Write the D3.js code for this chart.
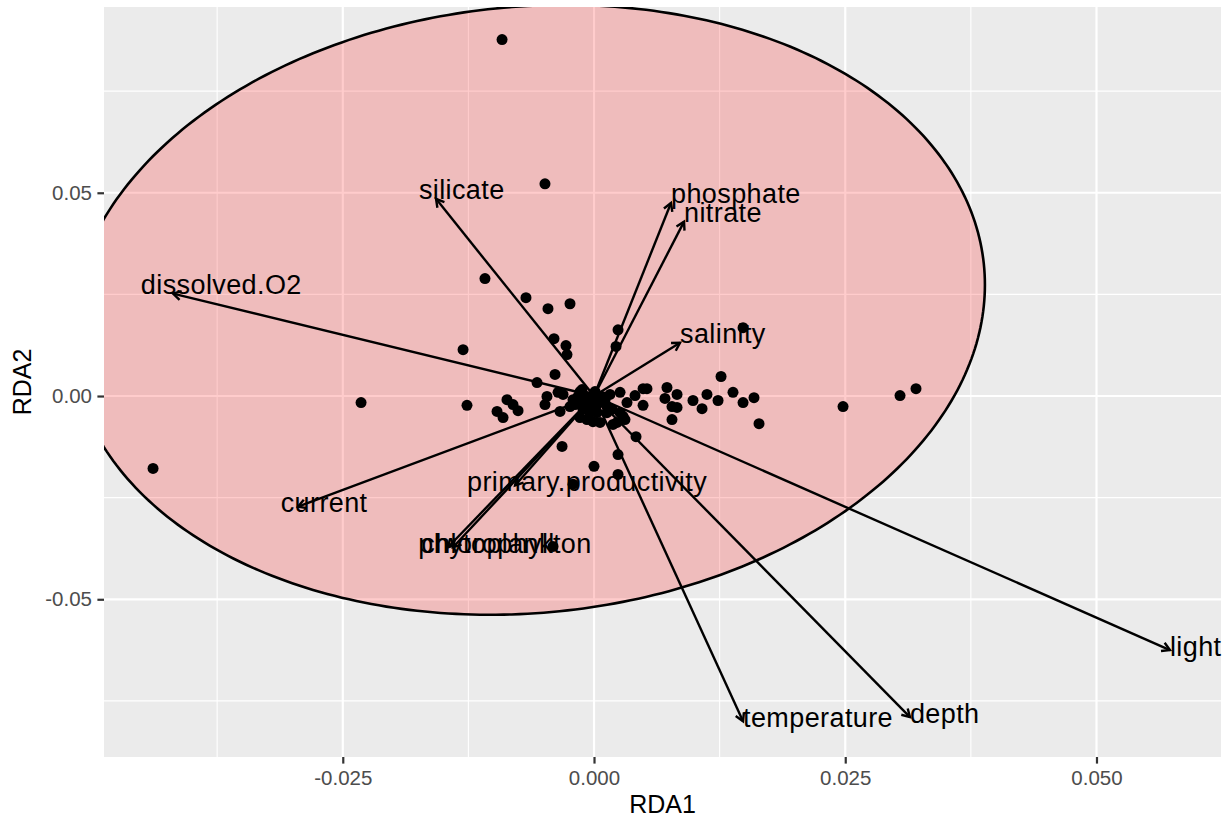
<!DOCTYPE html>
<html>
<head>
<meta charset="utf-8">
<script src="https://cdn.jsdelivr.net/npm/d3@7"></script>
<style>
  body { margin: 0; background: #ffffff; }
  text { font-family: "Liberation Sans", Arial, Helvetica, sans-serif; }
</style>
</head>
<body>
<svg id="chart" width="1232" height="825"></svg>
<script>
// Site scores on the first two RDA axes
const siteRDA1 = [
  -0.00915, -0.00488, -0.01085, -0.00677, -0.00458, -0.00239, -0.01303, -0.00398,
  -0.00279, -0.00269, 0.00239, 0.00219, -0.00388, -0.00567, -0.02318, -0.01264,
  -0.04388, 0.01483, 0.01264, 0.02478, 0.03045, 0.03204, 0.01642,
  0.00527, 0.00488, 0.00726, 0.00706, 0.00826, 0.00776, 0.00826, 0.00776,
  0.00985, 0.01075, 0.01124, 0.01234, 0.01383, 0.01483, 0.01592,
  0.00259, 0.00408, 0.00328, 0.00488, 0.00259, 0.00308, 0.00189, 0.00418,
  0.00229, 0.00080, 0.00159, 0.00129, 0.00060, 0.00289, 0.00030, 0.00129,
  -0.00358, -0.00308, -0.00209, -0.00239, -0.00119, -0.00070, -0.00109, -0.00040,
  -0.00139, -0.00070, -0.00010, -0.00338, -0.00468, -0.00488, -0.00139,
  -0.00040, 0.00040, -0.00090, -0.00020, -0.00159, -0.00189, 0.00010, 0.00109, 0.00179,
  -0.00866, -0.00806, -0.00756, -0.00965, -0.00905,
  -0.00318, 0.00000, -0.00209, 0.00239, 0.00239, -0.00408
];
const siteRDA2 = [
  0.0877, 0.0522, 0.0289, 0.0242, 0.0215, 0.0227, 0.0114, 0.0141,
  0.0124, 0.0102, 0.0163, 0.0122, 0.0053, 0.0033, -0.0016, -0.0023,
  -0.0178, 0.0168, 0.0048, -0.0026, 0.0001, 0.0018, -0.0068,
  0.0018, 0.0018, 0.0021, -0.0006, 0.0004, -0.0026, -0.0028, -0.0058,
  -0.0011, -0.0031, 0.0004, -0.0011, 0.0009, -0.0016, -0.0004,
  0.0009, 0.0001, -0.0016, -0.0023, -0.0041, -0.0058, -0.0070, -0.0100,
  -0.0065, -0.0001, 0.0004, -0.0026, -0.0065, -0.0050, -0.0041, -0.0041,
  0.0009, 0.0004, -0.0009, -0.0026, 0.0016, -0.0001, -0.0033, -0.0041,
  -0.0053, -0.0058, -0.0063, -0.0038, -0.0001, -0.0021, 0.0011,
  -0.0009, -0.0018, -0.0018, -0.0028, -0.0001, -0.0021, 0.0011, -0.0011, -0.0033,
  -0.0009, -0.0021, -0.0036, -0.0038, -0.0053,
  -0.0124, -0.0173, -0.0217, -0.0144, -0.0193, -0.0370
];

// Environmental variable biplot scores
const envNames = ["silicate", "phosphate", "nitrate", "dissolved.O2", "salinity", "current",
  "primary.productivity", "chlorophyll", "phytoplankton", "temperature", "depth", "light"];
const envRDA1 = [-0.01572, 0.00766, 0.00896, -0.04189, 0.00856, -0.02945,
  -0.00786, -0.01453, -0.01403, 0.01483, 0.03144, 0.05731];
const envRDA2 = [0.0485, 0.0475, 0.0429, 0.0252, 0.0131, -0.0272,
  -0.0220, -0.0372, -0.0372, -0.0800, -0.0790, -0.0625];

// Axis breaks
const xTicks = [-0.025, 0, 0.025, 0.05];
const xTickLabels = ["-0.025", "0.000", "0.025", "0.050"];
const yTicks = [-0.05, 0, 0.05];
const yTickLabels = ["-0.05", "0.00", "0.05"];

// Confidence ellipse: centre and shape matrix (already scaled by the radius)
const ellipseCenter = [-0.0066, 0.0212];
const ellipseShape = [[0.0020700, 0.00028000], [0.00028000, 0.0056266]];

const svg = d3.select("#chart");
const panel = { left: 104, right: 1221, top: 7, bottom: 757 };

const x = d3.scaleLinear().domain([-0.04876, 0.06239]).range([panel.left, panel.right]);
const y = d3.scaleLinear().domain([-0.0888, 0.0957]).range([panel.bottom, panel.top]);

svg.append("rect").attr("width", 1232).attr("height", 825).attr("fill", "#ffffff");

svg.append("defs").append("clipPath").attr("id", "panel-clip")
  .append("rect")
  .attr("x", panel.left).attr("y", panel.top)
  .attr("width", panel.right - panel.left).attr("height", panel.bottom - panel.top);

svg.append("rect")
  .attr("x", panel.left).attr("y", panel.top)
  .attr("width", panel.right - panel.left).attr("height", panel.bottom - panel.top)
  .attr("fill", "#EBEBEB");

const grid = svg.append("g").attr("clip-path", "url(#panel-clip)");

// minor grid lines sit halfway between the major breaks
const xStep = 0.025, yStep = 0.05;
const xMinor = d3.range(-0.1, 0.1, xStep).map(v => v + xStep / 2)
  .filter(v => v > x.domain()[0] && v < x.domain()[1]);
const yMinor = d3.range(-0.15, 0.15, yStep).map(v => v + yStep / 2)
  .filter(v => v > y.domain()[0] && v < y.domain()[1]);

grid.selectAll(".xminor").data(xMinor).join("line")
  .attr("x1", d => x(d)).attr("x2", d => x(d))
  .attr("y1", panel.top).attr("y2", panel.bottom)
  .attr("stroke", "#ffffff").attr("stroke-width", 1.1);
grid.selectAll(".yminor").data(yMinor).join("line")
  .attr("y1", d => y(d)).attr("y2", d => y(d))
  .attr("x1", panel.left).attr("x2", panel.right)
  .attr("stroke", "#ffffff").attr("stroke-width", 1.1);
grid.selectAll(".xmajor").data(xTicks).join("line")
  .attr("x1", d => x(d)).attr("x2", d => x(d))
  .attr("y1", panel.top).attr("y2", panel.bottom)
  .attr("stroke", "#ffffff").attr("stroke-width", 2.2);
grid.selectAll(".ymajor").data(yTicks).join("line")
  .attr("y1", d => y(d)).attr("y2", d => y(d))
  .attr("x1", panel.left).attr("x2", panel.right)
  .attr("stroke", "#ffffff").attr("stroke-width", 2.2);

// ellipse outline from the Cholesky factor of the shape matrix
const l11 = Math.sqrt(ellipseShape[0][0]);
const l21 = ellipseShape[1][0] / l11;
const l22 = Math.sqrt(ellipseShape[1][1] - l21 * l21);
const ellipsePts = d3.range(0, 361).map(i => {
  const t = i / 360 * 2 * Math.PI;
  const c = Math.cos(t), s = Math.sin(t);
  return [x(ellipseCenter[0] + l11 * c), y(ellipseCenter[1] + l21 * c + l22 * s)];
});
grid.append("path")
  .attr("d", d3.line()(ellipsePts) + "Z")
  .attr("fill", "#ff0000").attr("fill-opacity", 0.2)
  .attr("stroke", "#000000").attr("stroke-width", 2.6);

// site points
const sites = siteRDA1.map((v, i) => ({ x: v, y: siteRDA2[i] }));
grid.selectAll(".site").data(sites).join("circle")
  .attr("cx", d => x(d.x)).attr("cy", d => y(d.y))
  .attr("r", 5.5).attr("fill", "#000000");

// environmental arrows
const env = envNames.map((n, i) => ({ name: n, x: envRDA1[i], y: envRDA2[i] }));
const ox = x(0), oy = y(0);
const headLen = 9, headAng = Math.PI / 6;
const arrows = svg.append("g");
env.forEach(d => {
  const tx = x(d.x), ty = y(d.y);
  const ang = Math.atan2(ty - oy, tx - ox);
  arrows.append("line")
    .attr("x1", ox).attr("y1", oy).attr("x2", tx).attr("y2", ty)
    .attr("stroke", "#000000").attr("stroke-width", 2.4);
  const p1 = [tx - headLen * Math.cos(ang - headAng), ty - headLen * Math.sin(ang - headAng)];
  const p2 = [tx - headLen * Math.cos(ang + headAng), ty - headLen * Math.sin(ang + headAng)];
  arrows.append("path")
    .attr("d", `M${p1[0]},${p1[1]}L${tx},${ty}L${p2[0]},${p2[1]}`)
    .attr("fill", "none").attr("stroke", "#000000").attr("stroke-width", 2.4)
    .attr("stroke-linejoin", "miter");
});

// variable labels at the arrow tips
const labelSize = 27;
const labels = svg.append("g");
env.forEach(d => {
  const t = labels.append("text")
    .attr("font-size", labelSize).attr("letter-spacing", 0.4).attr("fill", "#000000")
    .text(d.name);
  const w = t.node().getComputedTextLength();
  const hjust = d.x < 0 ? 0.2 : 0;
  const vjust = d.y < 0 ? 0.3 : 0;
  t.attr("x", x(d.x) - hjust * w)
   .attr("y", y(d.y) + vjust * 0.72 * labelSize);
});

// axes
const xAxis = svg.append("g")
  .attr("transform", `translate(0,${panel.bottom})`)
  .call(d3.axisBottom(x).tickValues(xTicks).tickFormat((d, i) => xTickLabels[i])
    .tickSize(6.6).tickPadding(7));
const yAxis = svg.append("g")
  .attr("transform", `translate(${panel.left},0)`)
  .call(d3.axisLeft(y).tickValues(yTicks).tickFormat((d, i) => yTickLabels[i])
    .tickSize(6.6).tickPadding(5.4));
[xAxis, yAxis].forEach(g => {
  g.select(".domain").remove();
  g.selectAll(".tick line").attr("stroke", "#333333").attr("stroke-width", 2.2);
  g.selectAll(".tick text").attr("fill", "#4D4D4D").attr("font-size", 20.5)
    .attr("font-family", "'Liberation Sans', Arial, Helvetica, sans-serif");
});

// axis titles
svg.append("text")
  .attr("x", (panel.left + panel.right) / 2).attr("y", 813)
  .attr("text-anchor", "middle").attr("font-size", 25).attr("fill", "#000000")
  .text("RDA1");
svg.append("text")
  .attr("transform", `translate(31,${(panel.top + panel.bottom) / 2}) rotate(-90)`)
  .attr("text-anchor", "middle").attr("font-size", 25).attr("fill", "#000000")
  .text("RDA2");
</script>
</body>
</html>
